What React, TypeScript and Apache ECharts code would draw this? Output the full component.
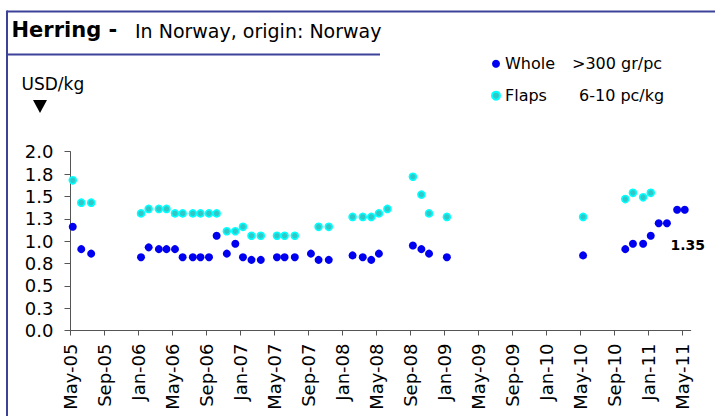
import React, { useEffect, useRef } from "react";
import * as echarts from "echarts";

// ---- data ----
const titleMain = "Herring -";
const titleSub = "In Norway, origin: Norway";
const unitLabel = "USD/kg";
const seriesNames = ["Whole", "Flaps"];
const seriesSpecs = [">300 gr/pc", "6-10 pc/kg"];

const tickLabels = [
  "May-05", "Sep-05", "Jan-06", "May-06", "Sep-06", "Jan-07", "May-07",
  "Sep-07", "Jan-08", "May-08", "Sep-08", "Jan-09", "May-09", "Sep-09",
  "Jan-10", "May-10", "Sep-10", "Jan-11", "May-11",
];

const dates = [
  "2005-05-09", "2005-06-09", "2005-07-14",
  "2006-01-10", "2006-02-07", "2006-03-13", "2006-04-10", "2006-05-10",
  "2006-06-07", "2006-07-13", "2006-08-10", "2006-09-10", "2006-10-07",
  "2006-11-13", "2006-12-13", "2007-01-10", "2007-02-10", "2007-03-13",
  "2007-05-10", "2007-06-07", "2007-07-13", "2007-09-10", "2007-10-07",
  "2007-11-13", "2008-02-07", "2008-03-13", "2008-04-13", "2008-05-10",
  "2008-06-10", "2008-09-10", "2008-10-10", "2008-11-07", "2009-01-10",
  "2010-05-11", "2010-10-10", "2010-11-07", "2010-12-13", "2011-01-10",
  "2011-02-08", "2011-03-07", "2011-04-13", "2011-05-10",
];

const whole: (number | null)[] = [
  1.16, 0.91, 0.86,
  0.82, 0.93, 0.91, 0.91, 0.91,
  0.82, 0.82, 0.82, 0.82, 1.06,
  0.86, 0.97, 0.82, 0.79, 0.79,
  0.82, 0.82, 0.82, 0.86, 0.79,
  0.79, 0.84, 0.82, 0.79, 0.86,
  null, 0.95, 0.91, 0.86, 0.82,
  0.84, 0.91, 0.97, 0.97, 1.06,
  1.2, 1.2, 1.35, 1.35,
];

const flaps: (number | null)[] = [
  1.68, 1.43, 1.43,
  1.31, 1.36, 1.36, 1.36, 1.31,
  1.31, 1.31, 1.31, 1.31, 1.31,
  1.11, 1.11, 1.16, 1.06, 1.06,
  1.06, 1.06, 1.06, null, 1.16,
  1.16, 1.27, 1.27, 1.27, 1.31,
  1.36, 1.72, 1.52, 1.31, 1.27,
  1.27, 1.47, 1.54, 1.49, 1.54,
  null, null, null, null,
];

const axisStart = "2005-05-01";
const axisEnd = "2011-06-01";

function monthIndex(d: string): number {
  const [y, m, day] = d.split("-").map(Number);
  const [y0, m0] = axisStart.split("-").map(Number);
  return (y - y0) * 12 + (m - m0) + (day - 1) / 30;
}

const FONT = "'DejaVu Sans', sans-serif";

export default function App() {
  const ref = useRef<HTMLDivElement>(null);

  useEffect(() => {
    if (!ref.current) return;
    const chart = echarts.init(ref.current, undefined, { renderer: "svg" });

    const lastWhole = whole.reduce<number>((acc, v, i) => (v != null ? i : acc), -1);

    const wholeData = dates
      .map((d, i) => {
        const v = whole[i];
        if (v == null) return null;
        const item: any = { value: [monthIndex(d), v] };
        if (i === lastWhole) {
          item.label = {
            show: true,
            position: [7, 39],
            align: "center",
            verticalAlign: "middle",
            formatter: (p: any) => p.value[1].toFixed(2),
            fontFamily: FONT,
            fontWeight: "bold",
            fontSize: 14,
            color: "#000",
          };
        }
        return item;
      })
      .filter((x) => x != null);

    const flapsData = dates
      .map((d, i) => (flaps[i] == null ? null : { value: [monthIndex(d), flaps[i]] }))
      .filter((x) => x != null);

    const lineColor = "#3d4299";

    chart.setOption({
      animation: false,
      grid: { left: 70.5, top: 151.7, right: 24.3, bottom: 85.5, containLabel: false },
      legend: {
        orient: "vertical",
        left: 486,
        top: 50.7,
        itemWidth: 8,
        itemHeight: 8,
        itemGap: 16,
        icon: "circle",
        data: seriesNames,
        formatter: (name: string) => {
          const i = seriesNames.indexOf(name);
          return `{n${i}|${name}}{s|${seriesSpecs[i]}}`;
        },
        textStyle: {
          fontFamily: FONT,
          fontSize: 16,
          color: "#000",
          rich: {
            n0: { width: 67, fontFamily: FONT, fontSize: 16, lineHeight: 20, color: "#000" },
            n1: { width: 74, fontFamily: FONT, fontSize: 16, lineHeight: 20, color: "#000" },
            s: { fontFamily: FONT, fontSize: 16, lineHeight: 20, color: "#000" },
          },
        },
      },
      xAxis: {
        type: "value",
        min: 0,
        max: monthIndex(axisEnd),
        interval: 4,
        splitLine: { show: false },
        axisLine: { show: true, lineStyle: { color: "#555", width: 1 } },
        axisTick: {
          show: true,
          length: 5,
          lineStyle: { color: "#555" },
          customValues: tickLabels.map((_, i) => i * 4),
        },
        axisLabel: {
          rotate: 90,
          margin: 13,
          fontFamily: FONT,
          fontSize: 18,
          color: "#000",
          customValues: tickLabels.map((_, i) => i * 4),
          formatter: (v: number) => {
            const k = v / 4;
            return Number.isInteger(k) && tickLabels[k] ? tickLabels[k] : "";
          },
        },
      },
      yAxis: {
        type: "value",
        min: 0,
        max: 2,
        interval: 0.25,
        splitLine: { show: false },
        axisLine: { show: true, lineStyle: { color: "#555", width: 1 } },
        axisTick: { show: true, length: 6, lineStyle: { color: "#555" } },
        axisLabel: {
          margin: 17,
          fontFamily: FONT,
          fontSize: 18,
          color: "#000",
          formatter: (v: number) => v.toFixed(1),
        },
      },
      series: [
        {
          name: seriesNames[1],
          type: "scatter",
          symbol: "circle",
          symbolSize: 7,
          itemStyle: { color: "#33c6c6", borderColor: "#00ffff", borderWidth: 1.6, opacity: 1 },
          data: flapsData,
        },
        {
          name: seriesNames[0],
          type: "scatter",
          symbol: "circle",
          symbolSize: 8,
          itemStyle: { color: "#0000f0", opacity: 1 },
          data: wholeData,
        },
      ],
      graphic: [
        { type: "line", shape: { x1: 7, y1: 11.5, x2: 715, y2: 11.5 }, style: { stroke: lineColor, lineWidth: 2 } },
        { type: "line", shape: { x1: 7, y1: 10.5, x2: 7, y2: 416 }, style: { stroke: lineColor, lineWidth: 2 } },
        { type: "line", shape: { x1: 7, y1: 54.5, x2: 380, y2: 54.5 }, style: { stroke: lineColor, lineWidth: 2 } },
        {
          type: "text",
          x: 11.5,
          y: 29.5,
          style: {
            text: titleMain,
            font: `bold 21px ${FONT}`,
            fill: "#000",
            textVerticalAlign: "middle",
          },
        },
        {
          type: "text",
          x: 135,
          y: 30.5,
          style: {
            text: titleSub,
            font: `19px ${FONT}`,
            fill: "#000",
            textVerticalAlign: "middle",
          },
        },
        {
          type: "text",
          x: 21.5,
          y: 83.5,
          style: {
            text: unitLabel,
            font: `17px ${FONT}`,
            fill: "#000",
            textVerticalAlign: "middle",
          },
        },
        {
          type: "polygon",
          shape: { points: [[33, 100], [47, 100], [40, 113]] },
          style: { fill: "#000" },
        },
      ],
    });

    return () => chart.dispose();
  }, []);

  return (
    <div
      ref={ref}
      style={{ position: "absolute", left: 0, top: 0, width: 715, height: 416, background: "#fff" }}
    />
  );
}
